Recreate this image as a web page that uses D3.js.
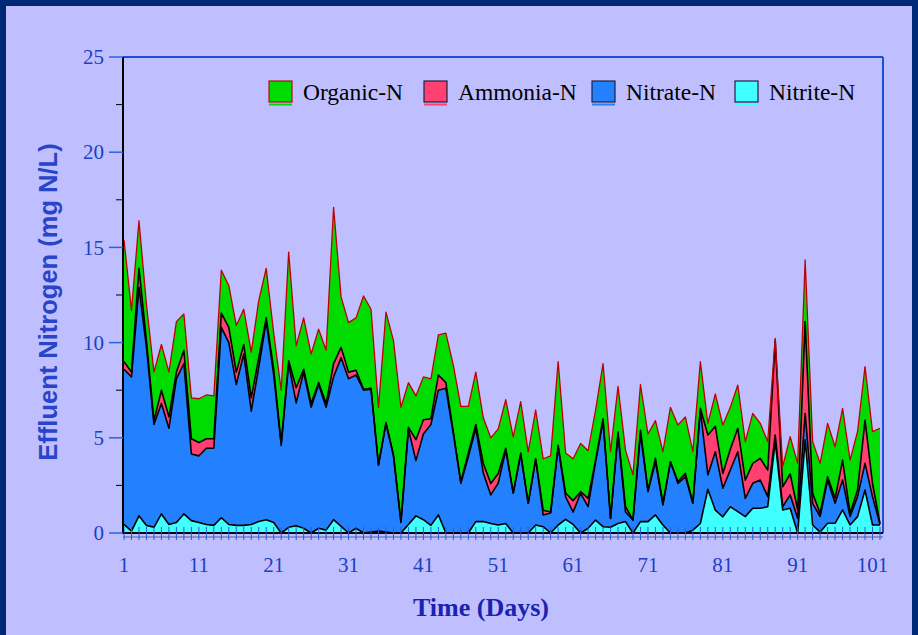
<!DOCTYPE html>
<html>
<head>
<meta charset="utf-8">
<script src="https://cdn.jsdelivr.net/npm/d3@7"></script>
<style>
  body { margin: 0; background: #bfbfff; }
  svg { display: block; }
</style>
</head>
<body>
<script>
// Daily effluent nitrogen fractions (mg N/L), days 1..102
const days = d3.range(1, 103);

const nitrite = [
  0.45, 0.1, 0.9, 0.4, 0.3, 1.0, 0.45, 0.55, 1.0, 0.65,
  0.55, 0.45, 0.4, 0.8, 0.45, 0.4, 0.4, 0.45, 0.6, 0.7,
  0.55, 0.0, 0.3, 0.38, 0.25, 0.0, 0.25, 0.15, 0.7, 0.35,
  0.0, 0.25, 0.0, 0.05, 0.1, 0.05, 0.0, 0.0, 0.45, 0.9,
  0.7, 0.4, 0.95, 0.0, 0.0, 0.0, 0.0, 0.6, 0.6, 0.5,
  0.42, 0.5, 0.0, 0.0, 0.0, 0.42, 0.33, 0.0, 0.42, 0.72,
  0.45, 0.0, 0.25, 0.68, 0.33, 0.3, 0.5, 0.6, 0.0, 0.6,
  0.6, 0.95, 0.42, 0.0, 0.0, 0.0, 0.15, 0.5, 2.3, 1.2,
  0.85, 1.38, 1.12, 0.86, 1.3, 1.3, 1.38, 4.8, 1.21, 1.3,
  0.0, 4.89, 0.42, 0.05, 0.51, 0.51, 1.21, 0.42, 0.86, 2.26,
  0.42, 0.42
];
const nitrate = [
  8.15, 8.1, 12.0, 9.35, 5.4, 5.8, 5.05, 7.55, 7.9, 3.5,
  3.5, 4.0, 4.05, 10.0, 9.55, 7.4, 9.0, 5.95, 8.1, 10.4,
  7.75, 4.6, 8.6, 6.45, 8.2, 6.6, 7.55, 6.45, 7.5, 8.85,
  8.1, 8.05, 7.5, 7.5, 3.45, 5.7, 4.05, 0.55, 5.0, 2.9,
  4.5, 5.3, 6.55, 7.6, 5.2, 2.6, 4.0, 4.9, 2.55, 1.5,
  2.2, 3.85, 2.1, 4.1, 1.56, 3.43, 0.62, 1.05, 4.08, 1.18,
  0.65, 2.08, 1.13, 3.06, 5.52, 0.47, 4.65, 0.5, 0.68, 4.6,
  1.57, 2.79, 1.05, 3.74, 2.6, 2.95, 1.41, 5.96, 0.75, 3.07,
  1.5, 1.92, 3.15, 0.96, 1.31, 1.48, 0.53, 0.35, 0.17, 0.7,
  0.77, 1.39, 1.14, 0.81, 2.27, 1.05, 1.57, 0.44, 1.05, 1.4,
  1.48, 0.03
];
const ammonia = [
  0.4, 0.25, 1.0, 0.35, 0.2, 0.7, 0.6, 0.35, 0.7, 0.8,
  0.7, 0.5, 0.5, 0.75, 0.8, 0.65, 0.5, 0.7, 0.5, 0.2,
  0.3, 0.1, 0.15, 0.8, 0.15, 0.2, 0.1, 0.2, 0.7, 0.55,
  0.35, 0.25, 0.05, 0.05, 0.05, 0.05, 0.05, 0.05, 0.1, 1.1,
  0.75, 0.3, 0.8, 0.3, 0.1, 0.1, 0.2, 0.2, 0.5, 0.6,
  0.5, 0.1, 0.0, 0.1, 0.0, 0.05, 0.25, 0.05, 0.1, 0.2,
  0.6, 0.09, 0.44, 0.09, 0.15, 0.0, 0.15, 0.28, 0.0, 0.2,
  0.08, 0.18, 0.09, 0.0, 0.1, 0.18, 0.0, 0.09, 2.1, 1.33,
  0.78, 1.1, 1.23, 0.96, 1.05, 1.14, 1.39, 4.99, 1.05, 1.1,
  0.44, 4.82, 0.52, 0.17, 0.18, 0.26, 1.05, 0.17, 0.35, 2.27,
  0.7, 0.05
];
const organic = [
  6.4, 3.25, 2.5, 1.9, 2.55, 2.4, 2.35, 2.65, 1.9, 2.15,
  2.3, 2.3, 2.25, 2.25, 2.2, 2.45, 1.85, 2.4, 3.0, 2.6,
  1.9, 2.8, 5.7, 2.2, 2.7, 2.6, 2.8, 2.8, 8.2, 2.65,
  2.6, 2.75, 4.9, 4.15, 3.0, 5.8, 6.0, 6.0, 2.35, 2.3,
  2.25, 2.1, 2.1, 2.6, 3.5, 3.95, 2.45, 2.75, 2.4, 2.4,
  2.35, 2.55, 2.95, 2.7, 2.7, 2.56, 2.7, 2.95, 4.4, 2.1,
  2.2, 2.53, 2.5, 2.63, 2.9, 3.5, 2.4, 2.97, 2.37, 2.4,
  2.95, 1.98, 2.71, 2.86, 2.97, 2.97, 2.71, 2.45, 0.6, 1.7,
  2.54, 2.2, 2.27, 2.02, 2.62, 1.84, 1.5, 0.08, 1.07, 1.96,
  2.45, 3.24, 2.72, 2.63, 2.8, 2.71, 2.72, 2.8, 3.06, 2.81,
  2.72, 5.0
];

const xTickLabels = [1, 11, 21, 31, 41, 51, 61, 71, 81, 91, 101];
const yTickLabels = [0, 5, 10, 15, 20, 25];
const legendNames = ['Organic-N', 'Ammonia-N', 'Nitrate-N', 'Nitrite-N'];

const keys = ['nitrite', 'nitrate', 'ammonia', 'organic'];
const fills = { nitrite: '#40ffff', nitrate: '#2381ff', ammonia: '#ff4070', organic: '#00dc00' };
const strokes = { nitrite: '#000', nitrate: '#000', ammonia: '#000', organic: '#c00000' };

const width = 918, height = 635;
const plot = { left: 123, right: 883, top: 57, bottom: 533 };

const svg = d3.select('body').append('svg')
    .attr('width', width)
    .attr('height', height);

// page frame
svg.append('rect')
    .attr('width', width).attr('height', height)
    .attr('fill', '#002878');
svg.append('rect')
    .attr('x', 6).attr('y', 6)
    .attr('width', width - 12).attr('height', height)
    .attr('fill', '#bfbfff');

const x = d3.scaleLinear().domain([1, 102]).range([124, 880]);
const y = d3.scaleLinear().domain([0, 25]).range([plot.bottom, plot.top]);

const table = days.map((d, i) => ({
    day: d,
    nitrite: nitrite[i],
    nitrate: nitrate[i],
    ammonia: ammonia[i],
    organic: organic[i],
}));
const layers = d3.stack().keys(keys)(table);

const area = d3.area()
    .x(d => x(d.data.day))
    .y0(d => y(d[0]))
    .y1(d => y(d[1]));
const line = d3.line()
    .x(d => x(d.data.day))
    .y(d => y(d[1]));

svg.append('g')
    .selectAll('path')
    .data(layers).enter()
    .append('path')
        .attr('d', area)
        .attr('fill', d => fills[d.key]);

svg.append('g')
    .selectAll('path')
    .data(layers).enter()
    .append('path')
        .attr('d', line)
        .attr('fill', 'none')
        .attr('stroke', d => strokes[d.key])
        .attr('stroke-width', d => d.key === 'organic' ? 1.3 : 1.6)
        .attr('stroke-linejoin', 'round');

// frame: top and right in blue, y axis black
const blue = '#1d4fd0';
svg.append('line')
    .attr('x1', plot.left).attr('x2', plot.right)
    .attr('y1', plot.top).attr('y2', plot.top)
    .attr('stroke', blue).attr('stroke-width', 2);
svg.append('line')
    .attr('x1', plot.right).attr('x2', plot.right)
    .attr('y1', plot.top).attr('y2', plot.bottom)
    .attr('stroke', blue).attr('stroke-width', 2);

// x axis: bottom line + a tick every day
svg.append('line')
    .attr('x1', plot.left).attr('x2', plot.right)
    .attr('y1', plot.bottom + 4).attr('y2', plot.bottom + 4)
    .attr('stroke', '#7080c8').attr('stroke-width', 1.5);
svg.append('line')
    .attr('x1', plot.left).attr('x2', plot.right)
    .attr('y1', plot.bottom).attr('y2', plot.bottom)
    .attr('stroke', '#000').attr('stroke-width', 2);
svg.append('g')
    .selectAll('line')
    .data(days).enter()
    .append('line')
        .attr('x1', d => x(d)).attr('x2', d => x(d))
        .attr('y1', plot.bottom - 6).attr('y2', plot.bottom + 7)
        .attr('stroke', '#2a5ad8').attr('stroke-width', 1);

svg.append('g')
    .selectAll('text')
    .data(xTickLabels).enter()
    .append('text')
        .attr('x', d => x(d))
        .attr('y', 572)
        .attr('text-anchor', 'middle')
        .attr('font-family', '"Liberation Serif", "Times New Roman", serif')
        .attr('font-size', 21)
        .attr('fill', '#2040c0')
        .text(d => d);

// y axis
svg.append('line')
    .attr('x1', plot.left).attr('x2', plot.left)
    .attr('y1', plot.top).attr('y2', plot.bottom + 1)
    .attr('stroke', '#000').attr('stroke-width', 2);

svg.append('g')
    .selectAll('line')
    .data(d3.range(2.5, 25, 5)).enter()
    .append('line')
        .attr('x1', 116).attr('x2', plot.left)
        .attr('y1', d => y(d)).attr('y2', d => y(d))
        .attr('stroke', '#000').attr('stroke-width', 1);

const yTicks = svg.append('g')
    .selectAll('g')
    .data(yTickLabels).enter()
    .append('g')
        .attr('transform', d => `translate(0,${y(d)})`);
yTicks.append('line')
    .attr('x1', 109).attr('x2', plot.left)
    .attr('stroke', '#3060d8').attr('stroke-width', 1.5);
yTicks.append('text')
    .attr('x', 104)
    .attr('dy', '0.34em')
    .attr('text-anchor', 'end')
    .attr('font-family', '"Liberation Serif", "Times New Roman", serif')
    .attr('font-size', 21)
    .attr('fill', '#2040c0')
    .text(d => d);

// axis titles
svg.append('text')
    .attr('x', 481).attr('y', 616)
    .attr('text-anchor', 'middle')
    .attr('font-family', '"Liberation Serif", "Times New Roman", serif')
    .attr('font-weight', 'bold')
    .attr('font-size', 26)
    .attr('fill', '#1a22b0')
    .text('Time (Days)');

svg.append('text')
    .attr('transform', 'translate(57,302) rotate(-90)')
    .attr('text-anchor', 'middle')
    .attr('font-family', '"Liberation Sans", Arial, sans-serif')
    .attr('font-weight', 'bold')
    .attr('font-size', 25.5)
    .attr('fill', '#2844c8')
    .text('Effluent Nitrogen (mg N/L)');

// legend
const legendKeys = ['organic', 'ammonia', 'nitrate', 'nitrite'];
const legendX = [269, 424, 592, 735];
const legend = svg.append('g')
    .selectAll('g')
    .data(legendKeys).enter()
    .append('g')
        .attr('transform', (d, i) => `translate(${legendX[i]},81)`);
legend.append('line')
    .attr('x1', 0).attr('x2', 23)
    .attr('y1', 23.5).attr('y2', 23.5)
    .attr('stroke', d => fills[d])
    .attr('stroke-width', 2);
legend.append('rect')
    .attr('width', 23).attr('height', 21)
    .attr('fill', d => fills[d])
    .attr('stroke', d => d === 'organic' ? '#b01010' : '#202040')
    .attr('stroke-width', 1.2);
legend.append('text')
    .attr('x', 34).attr('y', 18.5)
    .attr('font-family', '"Liberation Serif", "Times New Roman", serif')
    .attr('font-size', 23.5)
    .attr('fill', '#000')
    .text((d, i) => legendNames[i]);
</script>
</body>
</html>
